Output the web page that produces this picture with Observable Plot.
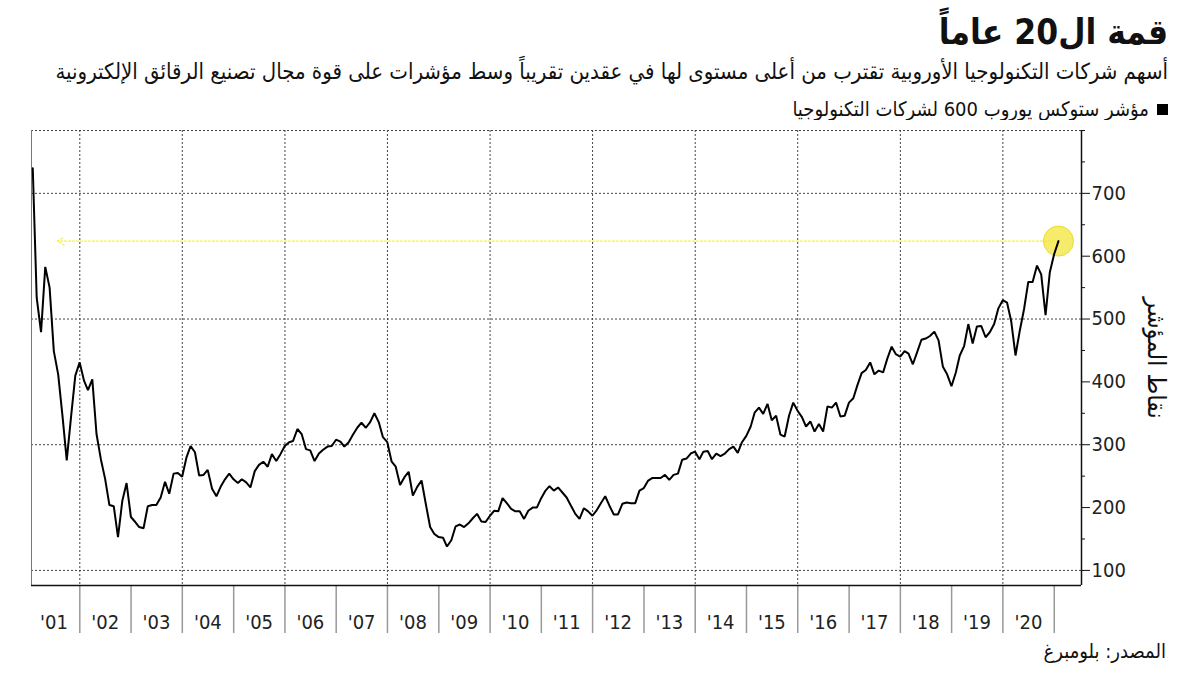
<!DOCTYPE html>
<html lang="ar">
<head>
<meta charset="utf-8">
<script src="https://cdn.jsdelivr.net/npm/d3@7"></script>
<script src="https://cdn.jsdelivr.net/npm/@observablehq/plot@0.6"></script>
<style>
  html, body { margin: 0; padding: 0; background: #fff; }
  #page { position: relative; width: 1200px; height: 675px; overflow: hidden; background: #fff;
          font-family: "DejaVu Sans Condensed", "DejaVu Sans", sans-serif; color: #111; }
  .t { position: absolute; right: 32px; white-space: nowrap; direction: rtl; }
  #title { top: 3px; font-size: 35px; font-weight: bold; line-height: 58px; }
  #subtitle { top: 57px; font-size: 22px; line-height: 30px; }
  #legend { top: 95px; font-size: 20px; line-height: 28px; display: flex; align-items: center; gap: 8px; }
  #legend .sw { width: 11px; height: 11px; background: #000; display: inline-block; }
  #chart { position: absolute; left: 0; top: 120px; }
  #caption { top: 637px; font-size: 20px; line-height: 28px; right: 34px; }
</style>
</head>
<body>
<div id="page">
  <div id="title" class="t">قمة ال20 عاماً</div>
  <div id="subtitle" class="t">أسهم شركات التكنولوجيا الأوروبية تقترب من أعلى مستوى لها في عقدين تقريباً وسط مؤشرات على قوة مجال تصنيع الرقائق الإلكترونية</div>
  <div id="legend" class="t"><span class="sw"></span><span>مؤشر ستوكس يوروب 600 لشركات التكنولوجيا</span></div>
  <div id="chart"></div>
  <div id="caption" class="t">المصدر: بلومبرغ</div>
</div>
<script>
// Monthly (month-end) index values, Jan 2001 .. Jan 2021
const startYear = 2001;
const values = [
  740,534,479,583,550,449,412,345,275,345,410,431,
  402,387,404,317,277,246,204,202,153,211,239,185,
  177,169,167,202,204,204,216,241,222,254,255,249,
  280,298,288,251,252,260,230,218,233,245,254,245,
  239,245,240,232,258,268,273,265,285,274,285,298,
  304,306,325,317,293,291,274,286,292,297,298,308,
  305,297,304,316,327,335,327,336,350,336,312,304,
  273,265,236,248,257,219,233,243,206,169,158,153,
  152,138,148,170,173,169,175,183,190,178,177,187,
  195,194,215,207,198,194,194,182,195,200,200,215,
  227,234,227,232,224,216,203,190,182,199,194,187,
  196,207,218,203,189,189,206,208,207,207,227,231,
  243,247,247,247,252,244,252,254,276,278,286,289,
  277,289,290,277,286,282,286,293,297,287,304,314,
  329,351,359,349,365,339,346,316,313,346,367,354,
  344,329,337,321,333,321,361,359,367,345,346,367,
  374,394,414,419,431,412,418,415,437,456,444,440,
  449,445,428,447,467,469,473,480,466,424,412,393,
  415,442,457,492,461,488,489,471,479,492,517,530,
  526,497,442,481,516,559,559,585,571,506,574,603,
  624
];
const yearLabels = ["'01","'02","'03","'04","'05","'06","'07","'08","'09","'10",
                    "'11","'12","'13","'14","'15","'16","'17","'18","'19","'20"];
const yTicks = [100, 200, 300, 400, 500, 600, 700];
const yMinorTicks = [150, 250, 350, 450, 550, 650, 750, 800];
const yGrid = [100, 300, 500, 700, 800];
const yearBoundaries = [2002,2003,2004,2005,2006,2007,2008,2009,2010,2011,2012,2013,2014,2015,2016,2017,2018,2019,2020,2021];
const gridYears = [2002,2004,2006,2008,2010,2012,2014,2016,2018,2020];
const yLabel = "نقاط المؤشر";

const data = values.map((v, i) => ({date: new Date(Date.UTC(startYear, i + 1, 0)), value: v}));
const last = data[data.length - 1];
const xDomain = [new Date(Date.UTC(2001, 0, 22)), new Date(Date.UTC(2021, 6, 14))];
const labelData = yearLabels.map((l, k) => ({date: new Date(Date.UTC(startYear + k, 6, 1)), label: l}));
const toDate = y => new Date(Date.UTC(y, 0, 1));

const chart = Plot.plot({
  width: 1200,
  height: 520,
  marginTop: 10,
  marginBottom: 55,
  marginLeft: 31,
  marginRight: 119,
  style: {fontFamily: "'DejaVu Sans Condensed', 'DejaVu Sans', sans-serif", fontSize: "20px", background: "#fff", overflow: "visible"},
  x: {type: "utc", domain: xDomain},
  y: {domain: [76, 800]},
  marks: [
    Plot.gridY(yGrid, {stroke: "#444", strokeOpacity: 1, strokeDasharray: "2,2", strokeWidth: 1}),
    Plot.gridX(gridYears.map(toDate), {stroke: "#444", strokeOpacity: 1, strokeDasharray: "2,2", strokeWidth: 1}),
    Plot.ruleX([xDomain[0]], {stroke: "#777", strokeWidth: 1}),
    Plot.axisX(yearBoundaries.map(toDate), {tickSize: 48, stroke: "#999", strokeWidth: 1.5, tickFormat: () => "", label: null}),
    Plot.text(labelData, {x: "date", frameAnchor: "bottom", dy: 43, text: "label", fill: "#222", fontSize: 20}),
    Plot.axisY(yTicks, {anchor: "right", tickSize: 8, tickPadding: 2, stroke: "#111", fill: "#222", fontSize: 20, label: null}),
    Plot.axisY(yMinorTicks, {anchor: "right", tickSize: 3, stroke: "#111", tickFormat: () => "", label: null}),
    Plot.ruleY([76], {stroke: "#111", strokeWidth: 1.5}),
    Plot.ruleX([xDomain[1]], {stroke: "#111", strokeWidth: 1.5}),
    Plot.arrow([last], {x1: "date", y1: "value", x2: () => new Date(Date.UTC(2001, 6, 25)), y2: "value",
                        stroke: "#f2ea1c", strokeWidth: 1, strokeDasharray: "2,2", headLength: 12, bend: 0}),
    Plot.dot([last], {x: "date", y: "value", r: 15, fill: "#f2e53a", fillOpacity: 0.75, stroke: "#e8dc30", strokeWidth: 1}),
    Plot.lineY(data, {x: "date", y: "value", stroke: "#000", strokeWidth: 2, strokeLinejoin: "miter"}),
    Plot.text([yLabel], {frameAnchor: "right", dx: 74, rotate: 90, textAnchor: "middle", text: d => d, fontSize: 25, fill: "#111"})
  ]
});
document.getElementById("chart").appendChild(chart);
</script>
</body>
</html>
